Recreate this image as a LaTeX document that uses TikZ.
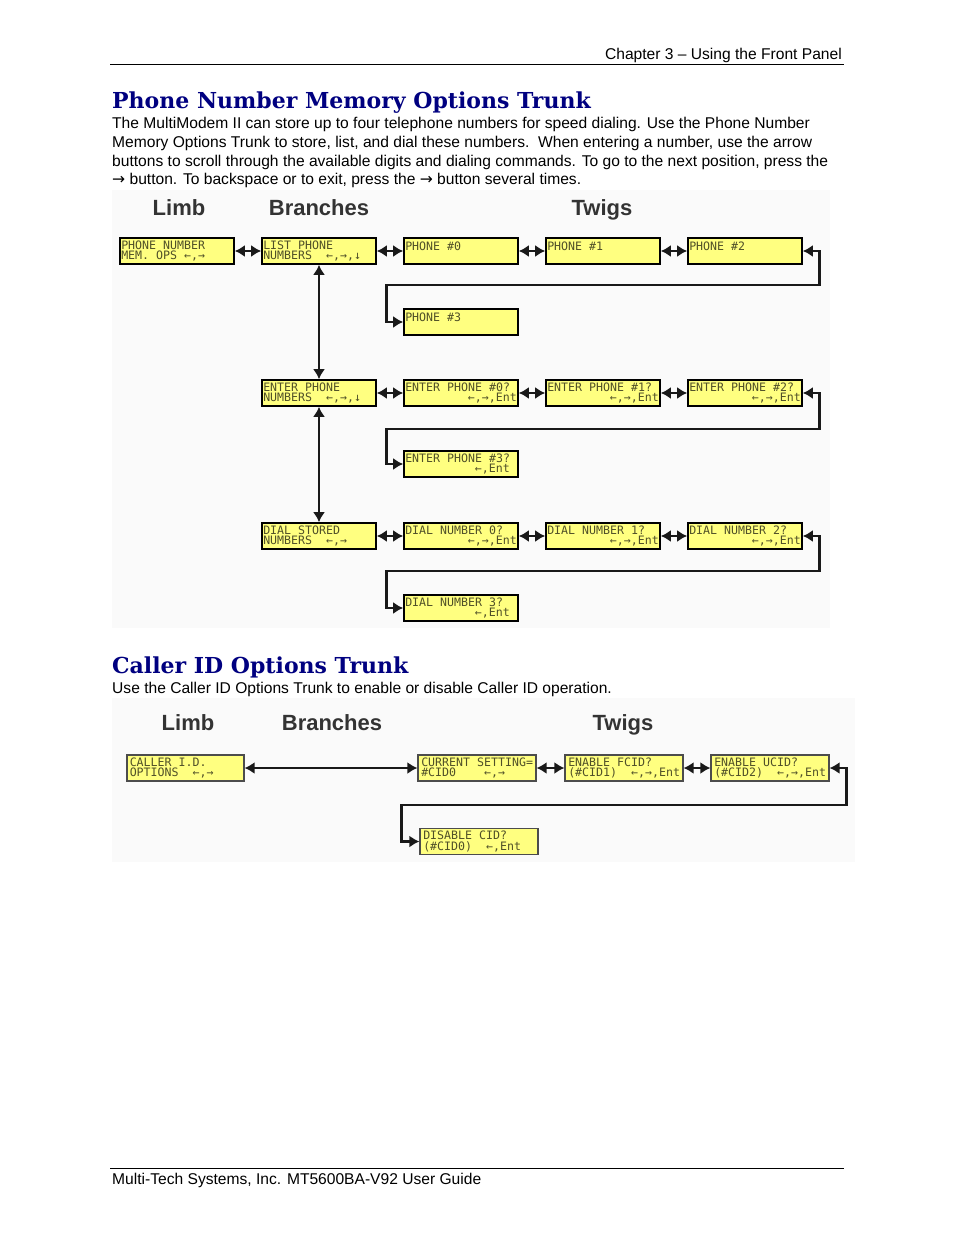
\documentclass[tikz,border=0pt]{standalone}
\usepackage{fontspec}
\setmainfont{Liberation Sans}
\newfontfamily\lcdfont{DejaVu Sans Mono}
\newfontfamily\ttlfont{DejaVu Serif}
\newfontfamily\arrowfont{DejaVu Sans}
\usetikzlibrary{arrows.meta}
\definecolor{lcdyellow}{RGB}{255,255,128}
\definecolor{lcdink}{RGB}{80,80,40}
\definecolor{ttlblue}{RGB}{0,0,128}
\definecolor{panelgray}{RGB}{250,250,250}
\newlength{\lcdw}
\setlength{\lcdw}{111.5pt}
\newcommand{\lcd}[2]{\makebox[\lcdw][l]{#1}\\\makebox[\lcdw][l]{#2}}
\newcommand{\rarr}{{\arrowfont →}}
\begin{document}
\begin{tikzpicture}[x=1pt,y=-1pt,
  lcdbox/.style={draw=black,line width=1.6pt,fill=lcdyellow,text=lcdink,
    minimum width=114pt,minimum height=26pt,inner sep=1pt,align=left,
    font=\lcdfont\fontsize{11.6}{10.6}\selectfont},
  lcdwide/.style={lcdbox,draw=black!70,line width=1.2pt,minimum width=118pt},
  lnk/.style={line width=2.8pt,black!90,{Latex[length=10pt,width=12pt]}-{Latex[length=10pt,width=12pt]}},
  body/.style={anchor=base west,inner sep=0pt,font=\fontsize{15.6}{19}\selectfont},
  lvl/.style={anchor=base,inner sep=0pt,text=black!80,font=\bfseries\fontsize{22}{24}\selectfont},
  ttl/.style={anchor=base west,inner sep=0pt,text=ttlblue,font=\ttlfont\bfseries\fontsize{22}{26}\selectfont}]
\useasboundingbox (0,0) rectangle (954,1235);
\fill[white] (0,0) rectangle (954,1235);

% page head and foot
\node[anchor=base east,inner sep=0pt,font=\fontsize{15.6}{18}\selectfont] (hdr) at (842,59) {Chapter 3 -- Using the Front Panel};
\draw[line width=1pt] (110,64) -- (844,64);
\draw[line width=1pt] (110,1168) -- (844,1168);
\node[body] (ftr) at (112,1184) {Multi-Tech Systems, Inc. MT5600BA-V92 User Guide};

% phone number memory options
\node[ttl] (ttl1) at (112,108) {Phone Number Memory Options Trunk};
\node[body] (par1) at (112,128) {The MultiModem II can store up to four telephone numbers for speed dialing. Use the Phone Number};
\node[body] (par2) at (112,147) {Memory Options Trunk to store, list, and dial these numbers.\ \ When entering a number, use the arrow};
\node[body] (par3) at (112,166) {buttons to scroll through the available digits and dialing commands. To go to the next position, press the};
\node[body] (par4) at (112,184) {\rarr{} button. To backspace or to exit, press the \rarr{} button several times.};

\fill[panelgray] (112,190) rectangle (830,628);
\node[lvl] (limb1) at (179,215) {Limb};
\node[lvl] (branch1) at (319,215) {Branches};
\node[lvl] (twig1) at (602,215) {Twigs};

\node[lcdbox] (mem) at (177,251) {\lcd{PHONE NUMBER}{MEM. OPS ←,→}};
\node[lcdbox] (list) at (319,251) {\lcd{LIST PHONE}{NUMBERS~~←,→,↓}};
\node[lcdbox] (ph0) at (461,251) {\lcd{PHONE \#0}{}};
\node[lcdbox] (ph1) at (603,251) {\lcd{PHONE \#1}{}};
\node[lcdbox] (ph2) at (745,251) {\lcd{PHONE \#2}{}};
\node[lcdbox] (ph3) at (461,322) {\lcd{PHONE \#3}{}};

\node[lcdbox] (ent) at (319,393) {\lcd{ENTER PHONE}{NUMBERS~~←,→,↓}};
\node[lcdbox] (ent0) at (461,393) {\lcd{ENTER PHONE \#0?}{\hfill←,→,Ent}};
\node[lcdbox] (ent1) at (603,393) {\lcd{ENTER PHONE \#1?}{\hfill←,→,Ent}};
\node[lcdbox] (ent2) at (745,393) {\lcd{ENTER PHONE \#2?}{\hfill←,→,Ent}};
\node[lcdbox] (ent3) at (461,464) {\lcd{ENTER PHONE \#3?}{\hfill←,Ent~}};

\node[lcdbox] (dial) at (319,536) {\lcd{DIAL STORED}{NUMBERS~~←,→}};
\node[lcdbox] (dial0) at (461,536) {\lcd{DIAL NUMBER 0?}{\hfill←,→,Ent}};
\node[lcdbox] (dial1) at (603,536) {\lcd{DIAL NUMBER 1?}{\hfill←,→,Ent}};
\node[lcdbox] (dial2) at (745,536) {\lcd{DIAL NUMBER 2?}{\hfill←,→,Ent}};
\node[lcdbox] (dial3) at (461,608) {\lcd{DIAL NUMBER 3?}{\hfill←,Ent~}};

\draw[lnk] (mem) -- (list);
\draw[lnk] (list) -- (ph0);
\draw[lnk] (ph0) -- (ph1);
\draw[lnk] (ph1) -- (ph2);
\draw[lnk] (ph2.east) -- ++(17,0) |- ++(-433,34) |- (ph3.west);
\draw[lnk] (list) -- (ent);
\draw[lnk] (ent) -- (ent0);
\draw[lnk] (ent0) -- (ent1);
\draw[lnk] (ent1) -- (ent2);
\draw[lnk] (ent2.east) -- ++(17,0) |- ++(-433,36) |- (ent3.west);
\draw[lnk] (ent) -- (dial);
\draw[lnk] (dial) -- (dial0);
\draw[lnk] (dial0) -- (dial1);
\draw[lnk] (dial1) -- (dial2);
\draw[lnk] (dial2.east) -- ++(17,0) |- ++(-433,35) |- (dial3.west);

% caller id options
\node[ttl] (ttl2) at (112,673) {Caller ID Options Trunk};
\node[body] (par5) at (112,693) {Use the Caller ID Options Trunk to enable or disable Caller ID operation.};

\fill[panelgray] (112,698) rectangle (855,862);
\node[lvl] (limb2) at (188,730) {Limb};
\node[lvl] (branch2) at (332,730) {Branches};
\node[lvl] (twig2) at (623,730) {Twigs};

\node[lcdwide,minimum width=117pt] (cid) at (185.5,768) {\lcd{CALLER I.D.}{OPTIONS~~←,→}};
\node[lcdwide] (cur) at (477,768) {\lcd{CURRENT SETTING=}{\#CID0~~~~←,→}};
\node[lcdwide] (fcid) at (624,768) {\lcd{ENABLE FCID?}{(\#CID1)~~←,→,Ent}};
\node[lcdwide] (ucid) at (770,768) {\lcd{ENABLE UCID?}{(\#CID2)~~←,→,Ent}};
\node[lcdwide] (dis) at (479,841.5) {\lcd{DISABLE CID?}{(\#CID0)~~←,Ent}};

\draw[lnk] (cid) -- (cur);
\draw[lnk] (cur) -- (fcid);
\draw[lnk] (fcid) -- (ucid);
\draw[lnk] (ucid.east) -- ++(17,0) |- ++(-445,37) |- (dis.west);
\end{tikzpicture}
\end{document}
